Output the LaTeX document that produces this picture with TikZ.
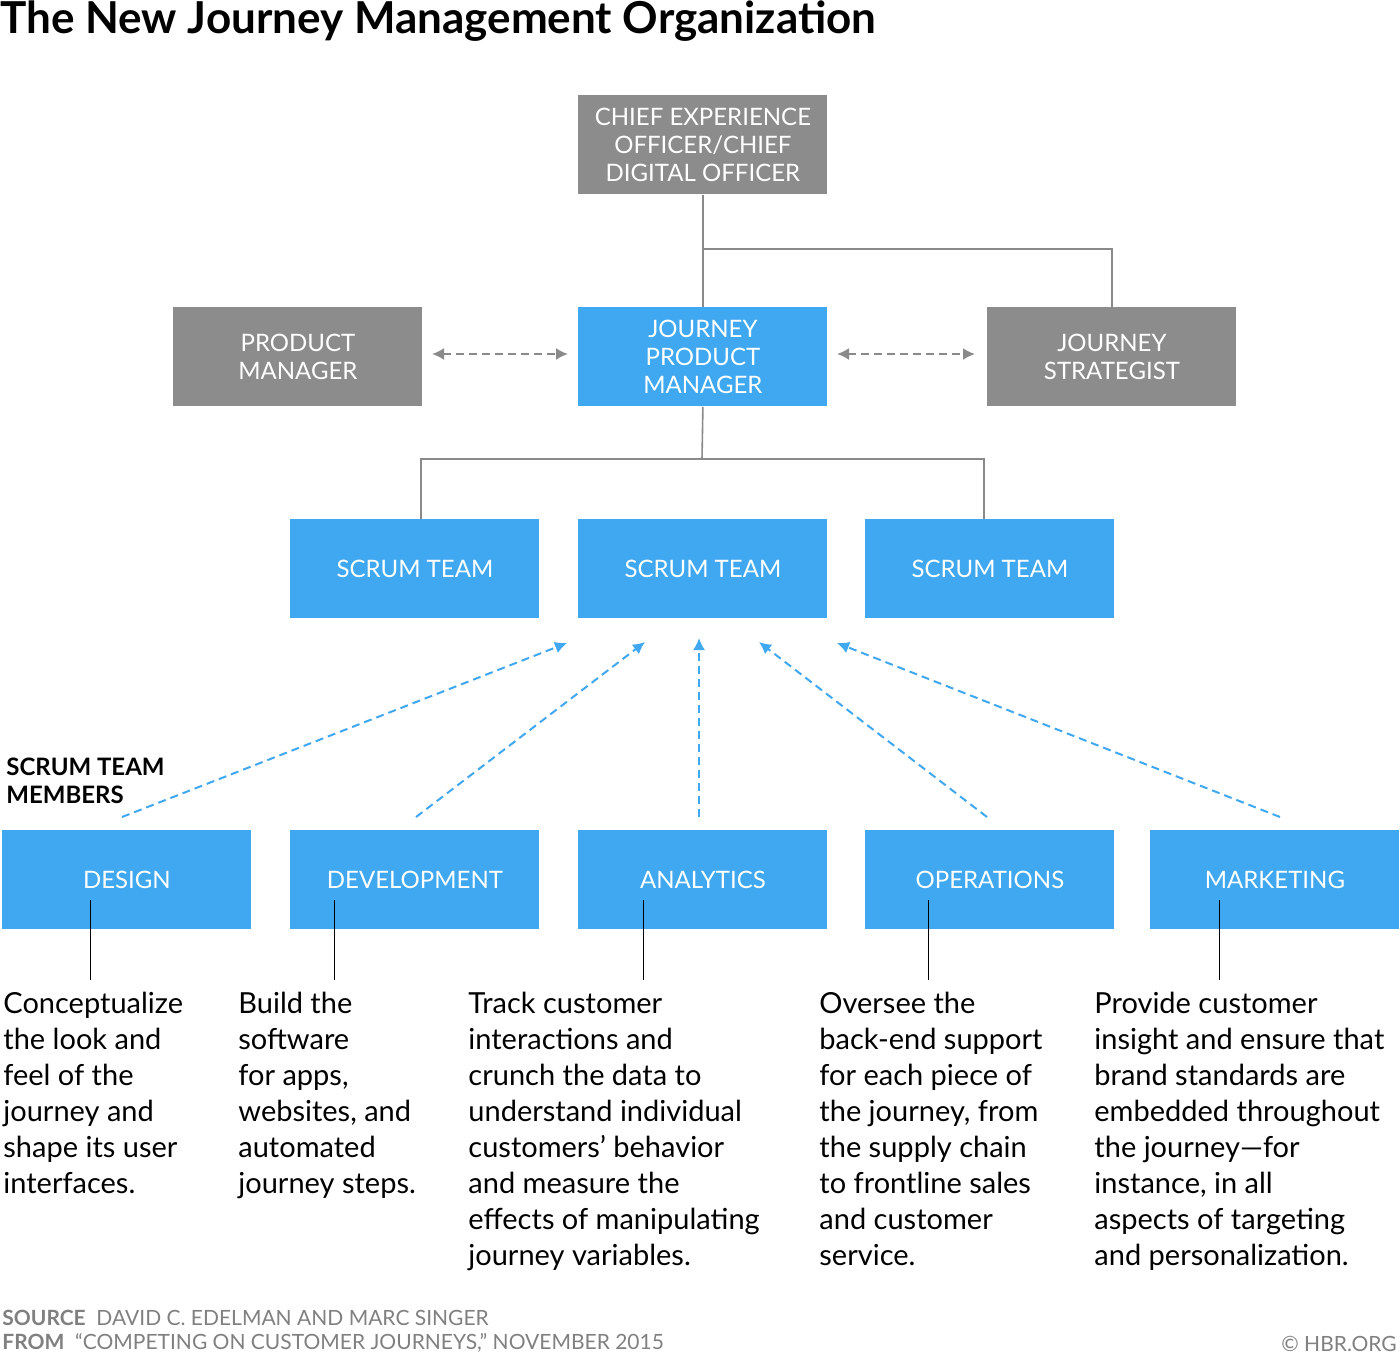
\documentclass[tikz,border=0pt]{standalone}
\usepackage{fontspec}
\setmainfont{Lato}
\usetikzlibrary{arrows.meta}
\definecolor{gbox}{HTML}{8C8C8C}
\definecolor{bbox}{HTML}{40A8F0}
\definecolor{lnc}{HTML}{8A8A8A}
\begin{document}
\begin{tikzpicture}[x=0.5pt,y=-0.5pt,
 box/.style={draw=none,minimum width=124.5pt,minimum height=49.5pt,anchor=north west,inner sep=0pt,text=white,font=\fontsize{12}{14}\selectfont,align=center},
 gb/.style={box,fill=gbox},bb/.style={box,fill=bbox},
 conn/.style={lnc,line width=0.8pt},
 dar/.style={dashed,line width=1pt,dash pattern=on 4pt off 2.5pt,-{Latex[length=6pt,width=6pt]}},
 para/.style={anchor=north west,align=left,inner sep=0pt,font=\fontsize{14.5}{18}\selectfont}]
\useasboundingbox (0,0) rectangle (1400,1355);
\node[anchor=north west,inner sep=0pt,font=\fontsize{22}{24}\selectfont\bfseries] (title) at (0,0) {The New Journey Management Organization};
\node[gb] (ceo) at (578,95) {CHIEF EXPERIENCE\\OFFICER/CHIEF\\DIGITAL OFFICER};
\node[gb] (pm) at (173,307) {PRODUCT\\MANAGER};
\node[bb] (jpm) at (578,307) {JOURNEY\\PRODUCT\\MANAGER};
\node[gb] (js) at (987,307) {JOURNEY\\STRATEGIST};
\node[bb] (s1) at (290,519) {SCRUM TEAM};
\node[bb] (s2) at (578,519) {SCRUM TEAM};
\node[bb] (s3) at (865,519) {SCRUM TEAM};
\node[bb] (d1) at (2,830) {DESIGN};
\node[bb] (d2) at (290,830) {DEVELOPMENT};
\node[bb] (d3) at (578,830) {ANALYTICS};
\node[bb] (d4) at (865,830) {OPERATIONS};
\node[bb] (d5) at (1150,830) {MARKETING};
\draw[conn] (ceo.south) -- (jpm.north);
\draw[conn] (702,249) -| (js.north);
\draw[conn] (jpm.south) -- (702,459);
\draw[conn] (421,519) |- (984,459) -- (984,519);
\draw[lnc,dashed,line width=1pt,dash pattern=on 4pt off 2.5pt,{Latex[length=6pt,width=6pt]}-{Latex[length=6pt,width=6pt]}] (432,354) -- (568,354);
\draw[lnc,dashed,line width=1pt,dash pattern=on 4pt off 2.5pt,{Latex[length=6pt,width=6pt]}-{Latex[length=6pt,width=6pt]}] (837,354) -- (975,354);
\coordinate (e1) at (567,643);\coordinate (e2) at (645,642);\coordinate (e3) at (699,638);\coordinate (e4) at (759,642);\coordinate (e5) at (837,643);
\draw[bbox,dar] (122,817) -- (e1);
\draw[bbox,dar] (416,817) -- (e2);
\draw[bbox,dar] (699,817) -- (e3);
\draw[bbox,dar] (987,817) -- (e4);
\draw[bbox,dar] (1280,817) -- (e5);
\node[anchor=north west,inner sep=0pt,align=left,font=\fontsize{12}{14}\selectfont\bfseries] (stm) at (6,758) {SCRUM TEAM\\MEMBERS};
\foreach \x in {90,334,643,928,1219} \draw[black,line width=0.5pt] (\x,900) -- (\x,980);
\node[para] (p1) at (3,992) {Conceptualize\\the look and\\feel of the\\journey and\\shape its user\\interfaces.};
\node[para] (p2) at (238,992) {Build the\\software\\for apps,\\websites, and\\automated\\journey steps.};
\node[para] (p3) at (468,992) {Track customer\\interactions and\\crunch the data to\\understand individual\\customers’ behavior\\and measure the\\effects of manipulating\\journey variables.};
\node[para] (p4) at (819,992) {Oversee the\\back-end support\\for each piece of\\the journey, from\\the supply chain\\to frontline sales\\and customer\\service.};
\node[para] (p5) at (1094,992) {Provide customer\\insight and ensure that\\brand standards are\\embedded throughout\\the journey—for\\instance, in all\\aspects of targeting\\and personalization.};
\node[anchor=north west,inner sep=0pt,align=left,text=gray,font=\fontsize{10.5}{12}\selectfont] (src) at (2,1310) {\textbf{SOURCE}\ \ DAVID C. EDELMAN AND MARC SINGER\\\textbf{FROM}\ \ “COMPETING ON CUSTOMER JOURNEYS,” NOVEMBER 2015};
\node[anchor=south east,inner sep=0pt,text=gray,font=\fontsize{10.5}{12}\selectfont] (hbr) at (1397,1352) {© HBR.ORG};
\end{tikzpicture}
\end{document}
